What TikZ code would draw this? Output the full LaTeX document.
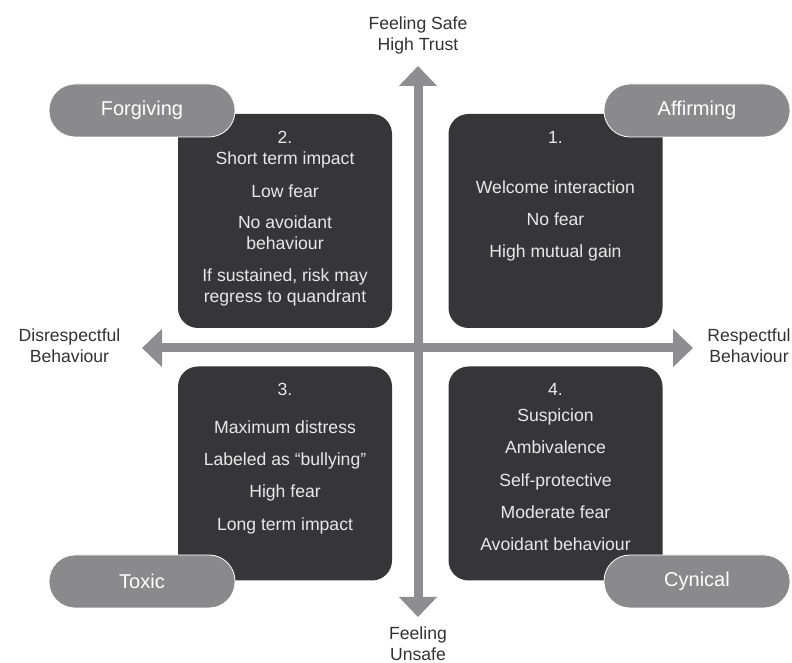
\documentclass[tikz,border=0pt]{standalone}
\usepackage{fontspec}
\setmainfont{Liberation Sans}
\usepackage{xcolor}
\usepackage{tikz}
\usetikzlibrary{arrows.meta, positioning}
\definecolor{quaddark}{RGB}{54, 54, 56}
\definecolor{pillgray}{RGB}{138, 138, 140}
\definecolor{axisgray}{RGB}{142, 142, 146}
\definecolor{labeltext}{RGB}{50, 50, 52}
\definecolor{quadtext}{RGB}{232, 232, 232}

\begin{document}
\begin{tikzpicture}[
    x=1pt, y=1pt,
    quad/.style = {rectangle, rounded corners=20pt, fill=quaddark,
                   minimum width=214pt, minimum height=214pt, inner sep=0pt},
    quadtext/.style = {anchor=north, align=center, inner sep=0pt, text=quadtext,
                       font=\fontsize{17.6}{21}\selectfont},
    pill/.style = {rectangle, rounded corners=26pt, fill=pillgray, draw=white,
                   line width=0.8pt, minimum width=186pt, minimum height=53pt,
                   text=white, font=\fontsize{20}{24}\selectfont},
    axis/.style = {{Triangle[width=37pt,length=20pt]}-{Triangle[width=37pt,length=20pt]},
                   line width=9pt, color=axisgray},
    axislabel/.style = {align=center, text=labeltext, inner sep=0pt,
                        font=\fontsize{17.6}{21}\selectfont}
  ]
    \useasboundingbox (0,0) rectangle (792,663);

    % axes
    \coordinate (north) at (418,597);
    \coordinate (south) at (418,46);
    \coordinate (west) at (142,315);
    \coordinate (east) at (693,315);
    \draw[axis] (west) -- (east);
    \draw[axis] (south) -- (north);

    \node[axislabel] (safe) at (418,628) {Feeling Safe\\High Trust};
    \node[axislabel] (unsafe) at (418,19) {Feeling\\Unsafe};
    \node[axislabel] (disresp) at (69.5,317) {Disrespectful\\Behaviour};
    \node[axislabel] (resp) at (749,317) {Respectful\\Behaviour};

    % quadrants
    \node[quad] (q1) at (555.5,442) {};
    \node[quad] (q2) at (285,442) {};
    \node[quad] (q3) at (285,189.5) {};
    \node[quad] (q4) at (555.5,189.5) {};

    \node[quadtext] (t1) at ([yshift=-17pt]q1.north)
      {1.\\[29pt]Welcome interaction\\[11pt]No fear\\[11pt]High mutual gain};
    \node[quadtext] (t2) at ([yshift=-17pt]q2.north)
      {2.\\Short term impact\\[12pt]Low fear\\[10pt]No avoidant\\behaviour\\[11pt]
       If sustained, risk may\\regress to quandrant};
    \node[quadtext] (t3) at ([yshift=-17pt]q3.north)
      {3.\\[17pt]Maximum distress\\[11pt]Labeled as “bullying”\\[11pt]High fear\\[12pt]
       Long term impact};
    \node[quadtext] (t4) at ([yshift=-17pt]q4.north)
      {4.\\[5pt]Suspicion\\[11pt]Ambivalence\\[12pt]Self-protective\\[11pt]
       Moderate fear\\[11pt]Avoidant behaviour};

    % corner tags
    \node[pill] (forgiving) at (142,552.5) {Forgiving};
    \node[pill] (affirming) at (697,552.5) {Affirming};
    \node[pill] (toxic) at (142,81.5) {Toxic};
    \node[pill] (cynical) at (697,81.5) {Cynical};
  \end{tikzpicture}
\end{document}
